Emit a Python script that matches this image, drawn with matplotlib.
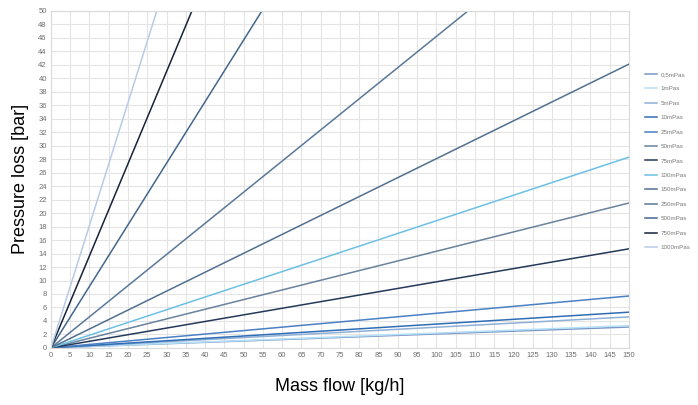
import numpy as np
import matplotlib.pyplot as plt

plt.rcParams['font.family'] = ['Liberation Sans', 'DejaVu Sans']

# viscosity series and pressure loss [bar] reached at 150 kg/h
labels = ['0,5mPas', '1mPas', '5mPas', '10mPas', '25mPas', '50mPas', '75mPas',
          '100mPas', '150mPas', '250mPas', '500mPas', '750mPas', '1000mPas']
loss_at_150 = [3.1, 3.3, 4.6, 5.3, 7.7, 21.5, 14.7, 28.3, 42.1, 69.3, 137.0, 205.0, 273.0]
mass_flow = [0, 150]

colors = ['#7b97c4', '#b5e0f7', '#8fb0d6', '#2f6db5', '#4a80c4', '#6a829c', '#24395a',
          '#6cc0e6', '#52708f', '#5a7898', '#44668c', '#17233a', '#b8cbe6']

fig = plt.figure(figsize=(6.98, 4.05), dpi=100)
ax = fig.add_axes([0.073, 0.141, 0.828, 0.832])

for lab, val, c in zip(labels, loss_at_150, colors):
    ax.plot(mass_flow, [0, val], color=c, lw=1.1, label=lab)

ax.set_xlim(0, 150)
ax.set_ylim(0, 50)
ax.set_xticks(np.arange(0, 151, 5))
ax.set_yticks(np.arange(0, 51, 2))
ax.tick_params(labelsize=5.5, colors='#6e6e6e', length=0, pad=3)
ax.grid(True, color='#e4e4e4', lw=0.8)
ax.set_axisbelow(True)
for s in ax.spines.values():
    s.set_color('#dadada')
    s.set_linewidth(0.8)

fig.text(0.03, 0.557, 'Pressure loss [bar]', rotation=90, ha='center', va='center', fontsize=13)
fig.text(0.487, 0.045, 'Mass flow [kg/h]', ha='center', va='center', fontsize=13)

leg = ax.legend(loc='center left', bbox_to_anchor=(1.018, 0.555), frameon=False,
                fontsize=4.5, handlelength=2.0, labelspacing=1.45, handletextpad=0.5)
for t in leg.get_texts():
    t.set_color('#7a7a7a')

fig.savefig('out.png', dpi=100)
